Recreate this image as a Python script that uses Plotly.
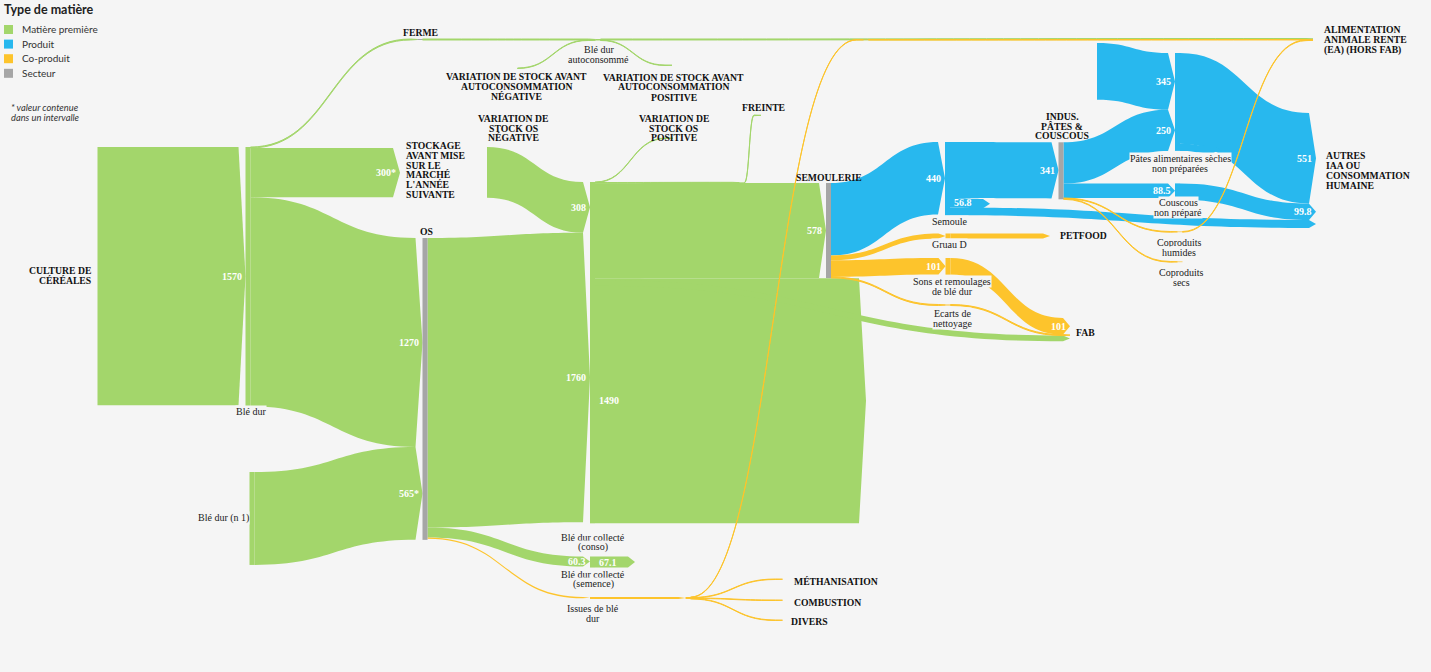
import plotly.graph_objects as go

W, H = 1431, 672
KY = 0.1645          # target scale: pixels per unit of flow
THICK = 5
ARROW = 7

GREEN, BLUE, YELLOW, GRAY, BG = "#A3D66B", "#28B8EE", "#FDC42C", "#A6A6A6", "#F5F5F5"
TYPE_COLOR = {"mp": GREEN, "prod": BLUE, "cop": YELLOW, "sect": GRAY, "ext": "rgba(0,0,0,0)"}

# ---------------- nodes ----------------
node_names = [
    "CULTURE DE CÉRÉALES", "Blé dur", "STOCKAGE AVANT MISE SUR LE MARCHÉ L'ANNÉE SUIVANTE", "FERME",
    "Blé dur autoconsommé", "VARIATION DE STOCK AVANT AUTOCONSOMMATION NÉGATIVE",
    "VARIATION DE STOCK AVANT AUTOCONSOMMATION POSITIVE", "ALIMENTATION ANIMALE RENTE (EA) (HORS FAB)",
    "Blé dur (n 1)", "OS", "VARIATION DE STOCK OS NÉGATIVE", "Blé dur collecté (conso)",
    "VARIATION DE STOCK OS POSITIVE", "FREINTE", "Blé dur collecté (semence)", "Issues de blé dur",
    "MÉTHANISATION", "COMBUSTION", "DIVERS", "SEMOULERIE", "Semoule", "Gruau D",
    "Sons et remoulages de blé dur", "Ecarts de nettoyage", "PETFOOD", "FAB", "INDUS. PÂTES & COUSCOUS",
    "Pâtes alimentaires sèches non préparées", "Couscous non préparé", "Coproduits humides",
    "Coproduits secs", "AUTRES IAA OU CONSOMMATION HUMAINE", "", "", "", "", "", "", "", "", "", "", "",
]
node_types = [
    "ext", "mp", "ext", "sect", "mp", "ext", "ext", "ext", "mp", "sect", "ext", "mp", "ext", "ext",
    "mp", "cop", "ext", "ext", "ext", "sect", "prod", "cop", "cop", "cop", "ext", "ext", "sect",
    "prod", "prod", "cop", "cop", "ext", "ext", "ext", "ext", "ext", "ext", "ext", "ext", "ext",
    "cop", "cop", "mp",
]
# layout: node centre x (px) and node top (px)
node_cx = [95, 248, 402.5, 420, 598, 515, 674.5, 1315.5, 252, 425, 484.5, 592.5, 675.5, 763.5,
           592.5, 592.5, 785, 785, 785, 828.5, 947.5, 948, 948, 948, 1052.5, 1072.5, 1061,
           1177.5, 1177.5, 1180, 1180, 1318.5, 1318.5, 1072.5, 592.5, 868.5, 637.5, 992.5, 1094.5, 1222.5,
           688, 866, 742]
node_top = [147, 147, 148, 39, 39, 68, 65, 38.5, 472, 238, 147, 182, 138, 115,
            556.5, 597, 579, 600, 620, 183, 142, 233.5, 258, 304.5, 233.5, 318, 142.3,
            53, 183.4, 231.5, 261.5, 113, 220, 335.6, 280, 278.2, 556.5, 199, 43, 146,
            597, 39.6, 182.3]

# ---------------- links ----------------
link_src = [0, 1, 1, 1, 3, 5, 4, 4, 8, 9, 9, 9, 10, 11, 42, 11, 11, 11, 34, 14, 15, 40, 40, 40, 40, 41,
            19, 19, 19, 19, 20, 20, 20, 21, 22, 23, 26, 26, 26, 26, 38, 27, 27, 28, 29]
link_tgt = [1, 3, 2, 9, 4, 4, 6, 7, 9, 11, 14, 15, 11, 42, 13, 12, 19, 35, 33, 36, 40, 16, 17, 18, 41, 7,
            20, 21, 22, 23, 26, 32, 37, 24, 25, 25, 27, 28, 29, 30, 27, 31, 39, 31, 7]
link_val = [1570, 6, 300, 1270, 6, 3, 3, 6, 565, 1760, 60.3, 8, 308, 4, 4, 3, 578, 1490, 35, 67.1,
            12, 3, 3, 3, 3, 3, 440, 30, 101, 6, 341, 48, 56.8, 30, 101, 6, 250, 88.5, 4, 4, 345, 551,
            44, 99.8, 4]
link_kind = ["mp", "mp", "mp", "mp", "mp", "mp", "mp", "mp", "mp", "mp", "mp", "cop", "mp", "mp", "mp",
             "mp", "mp", "mp", "mp", "mp", "cop", "cop", "cop", "cop", "cop", "cop", "prod", "cop",
             "cop", "cop", "prod", "prod", "prod", "cop", "cop", "cop", "prod", "prod", "cop", "cop",
             "prod", "prod", "prod", "prod", "cop"]
link_label = ["1570", "", "300*", "1270", "", "", "", "", "565*", "1760", "60.3", "", "308", "", "",
              "", "578", "1490", "", "67.1", "", "", "", "", "", "", "440", "", "101", "", "341", "",
              "56.8", "", "101", "", "250", "88.5", "", "", "345", "551", "", "99.8", ""]
link_label_side = ["end", "", "end", "end", "", "", "", "", "end", "end", "end", "", "end", "", "",
                   "", "end", "start", "", "start", "", "", "", "", "", "", "end", "", "end", "",
                   "end", "", "start", "", "end", "", "end", "end", "", "", "end", "end", "",
                   "end", ""]

n = len(node_names)
v_in, v_out = [0.0] * n, [0.0] * n
for s, t, v in zip(link_src, link_tgt, link_val):
    v_out[s] += v
    v_in[t] += v
node_val = [max(a, b) for a, b in zip(v_in, v_out)]

# replicate d3-sankey column assignment to pick the padding giving the target scale
depth = [0] * n
cur, x = list(range(n)), 0
while cur:
    nxt = []
    for i in cur:
        depth[i] = x
        for s, t in zip(link_src, link_tgt):
            if s == i and t not in nxt:
                nxt.append(t)
    cur, x = nxt, x + 1
nl = x
cols = {}
for i in range(n):
    cols.setdefault(depth[i] if v_out[i] > 0 else nl - 1, []).append(i)
Lmax = max(len(c) for c in cols.values())
maxpad = 2 / 3 * H / (Lmax - 1)


def ky_of(p):
    return min((H - (len(c) - 1) * p) / sum(node_val[i] for i in c) for c in cols.values())


if ky_of(0) <= KY:
    pad = 0
elif ky_of(maxpad) >= KY:
    pad = maxpad
else:
    lo, hi = 0.0, maxpad
    for _ in range(80):
        mid = (lo + hi) / 2
        if ky_of(mid) > KY:
            lo = mid
        else:
            hi = mid
    pad = (lo + hi) / 2

node_x = [cx / W for cx in node_cx]
node_y = [(tp + node_val[i] * KY / 2) / H for i, tp in enumerate(node_top)]

fig = go.Figure(go.Sankey(
    arrangement="fixed",
    node=dict(label=[""] * n, x=node_x, y=node_y, pad=pad, thickness=THICK,
              color=[TYPE_COLOR[t] for t in node_types], line=dict(width=0), hoverinfo="none"),
    link=dict(source=link_src, target=link_tgt, value=link_val,
              color=[TYPE_COLOR[k] for k in link_kind], arrowlen=ARROW, hoverinfo="none",
              line=dict(width=0)),
))

ann = []


def add_lines(lines, x, y, anchor, size, color, bold=False, lh=10, bg=None, italic=False, family="Liberation Serif"):
    for k, line in enumerate(lines):
        t = line
        if bold:
            t = "<b>" + t + "</b>"
        if italic:
            t = "<i>" + t + "</i>"
        d = dict(text=t, x=x / W, y=1 - (y + k * lh) / H, xref="paper", yref="paper",
                 xanchor=anchor, yanchor="middle", showarrow=False, borderpad=0,
                 font=dict(size=size, color=color, family=family))
        if bg:
            d["bgcolor"] = bg
        ann.append(d)


# ---- link value labels, placed from the replicated link stacking ----
order_out = {i: [] for i in range(n)}
order_in = {i: [] for i in range(n)}
for j, (s, t) in enumerate(zip(link_src, link_tgt)):
    order_out[s].append(j)
    order_in[t].append(j)
y_start, y_end = [0.0] * len(link_src), [0.0] * len(link_src)
for i in range(n):
    acc = node_top[i]
    for j in sorted(order_out[i], key=lambda j: (node_top[link_tgt[j]], j)):
        w = link_val[j] * KY
        y_start[j] = acc + w / 2
        acc += w
    acc = node_top[i]
    for j in sorted(order_in[i], key=lambda j: (node_top[link_src[j]], j)):
        w = link_val[j] * KY
        y_end[j] = acc + w / 2
        acc += w
for j, lab in enumerate(link_label):
    if not lab:
        continue
    if link_label_side[j] == "end":
        add_lines([lab], node_cx[link_tgt[j]] - THICK / 2 - 3, y_end[j], "right", 10, "white", bold=True)
    else:
        add_lines([lab], node_cx[link_src[j]] + THICK / 2 + 3, y_start[j], "left", 10, "white", bold=True)

# ---- node labels (text lines, placement) ----
B, R = "bold", "reg"
node_label_lines = {
    0: (["CULTURE DE", "CÉRÉALES"], 92, 270.5, "right", B, 10),
    1: (["Blé dur"], 251, 411, "center", R, 10),
    2: (["STOCKAGE", "AVANT MISE", "SUR LE", "MARCHÉ", "L'ANNÉE", "SUIVANTE"], 405, 145.5, "left", B, 9.8),
    3: (["FERME"], 420, 32, "center", B, 10),
    4: (["Blé dur", "autoconsommé"], 598.5, 50, "center", R, 9.5),
    5: (["VARIATION DE STOCK AVANT", "AUTOCONSOMMATION", "NÉGATIVE"], 516.5, 76.7, "center", B, 10),
    6: (["VARIATION DE STOCK AVANT", "AUTOCONSOMMATION", "POSITIVE"], 673.5, 77, "center", B, 10),
    7: (["ALIMENTATION", "ANIMALE RENTE", "(EA) (HORS FAB)"], 1323, 29.5, "left", B, 10.3),
    8: (["Blé dur (n 1)"], 249.5, 518, "right", R, 10),
    9: (["OS"], 426, 231, "center", B, 10),
    10: (["VARIATION DE", "STOCK OS", "NÉGATIVE"], 513, 118, "center", B, 10),
    11: (["Blé dur collecté", "(conso)"], 593, 537, "center", R, 10),
    12: (["VARIATION DE", "STOCK OS", "POSITIVE"], 673.5, 118, "center", B, 10),
    13: (["FREINTE"], 763, 107, "center", B, 10),
    14: (["Blé dur collecté", "(semence)"], 593, 574, "center", R, 10),
    15: (["Issues de blé", "dur"], 593, 608, "center", R, 10),
    16: (["MÉTHANISATION"], 793, 581, "left", B, 10),
    17: (["COMBUSTION"], 793, 602, "left", B, 10),
    18: (["DIVERS"], 790, 621, "left", B, 10),
    19: (["SEMOULERIE"], 795, 178, "left", B, 10),
    20: (["Semoule"], 950, 222, "center", R, 10),
    21: (["Gruau D"], 949, 244, "center", R, 10),
    22: (["Sons et remoulages", "de blé dur"], 952, 281, "center", R, 10),
    23: (["Ecarts de", "nettoyage"], 952, 313, "center", R, 10),
    24: (["PETFOOD"], 1059, 235.5, "left", B, 10),
    25: (["FAB"], 1075, 332, "left", B, 10),
    26: (["INDUS.", "PÂTES &", "COUSCOUS"], 1062, 116, "center", B, 10),
    27: (["Pâtes alimentaires sèches", "non préparées"], 1180, 158, "center", R, 10.5),
    28: (["Couscous", "non préparé"], 1178, 202, "center", R, 10),
    29: (["Coproduits", "humides"], 1179, 242, "center", R, 10),
    30: (["Coproduits", "secs"], 1181, 272, "center", R, 10),
    31: (["AUTRES", "IAA OU", "CONSOMMATION", "HUMAINE"], 1325, 155.5, "left", B, 10),
}
for i, (lines, lx, ly, anc, sty, lh) in node_label_lines.items():
    if sty == B:
        add_lines(lines, lx, ly, anc, 9.7, "#111111", bold=True, lh=lh)
    else:
        add_lines(lines, lx, ly, anc, 10, "#222222", lh=lh, bg=BG)

# ---- legend ----
legend_title = "Type de matière"
legend_items = ["Matière première", "Produit", "Co-produit", "Secteur"]
legend_colors = [GREEN, BLUE, YELLOW, GRAY]
note_lines = ["* valeur contenue", "dans un intervalle"]

add_lines([legend_title], 3, 10, "left", 12.5, "#222222", bold=True, family="Lato")
shapes = []
for k, (txt, col) in enumerate(zip(legend_items, legend_colors)):
    yc = 29.5 + k * 14.6
    shapes.append(dict(type="rect", xref="paper", yref="paper", x0=4 / W, x1=13 / W,
                       y0=1 - (yc + 4.5) / H, y1=1 - (yc - 4.5) / H, fillcolor=col, line=dict(width=0)))
    add_lines([txt], 21, yc - 0.5, "left", 10, "#333333", family="Lato")
add_lines(note_lines, 45, 108, "center", 9.3, "#333333", italic=True, lh=9.5, family="Lato")

fig.update_layout(width=W, height=H, margin=dict(l=0, r=0, t=0, b=0),
                  paper_bgcolor=BG, plot_bgcolor=BG, annotations=ann, shapes=shapes,
                  font=dict(family="Liberation Serif"))

page_fix = ("document.body.style.margin='0';document.body.style.padding='0';"
            "document.body.style.overflow='hidden';document.documentElement.style.overflow='hidden';"
            "document.documentElement.style.background='#F5F5F5';document.body.style.background='#F5F5F5';")
fig.write_html("out.html", post_script=page_fix, config={"displayModeBar": False})
